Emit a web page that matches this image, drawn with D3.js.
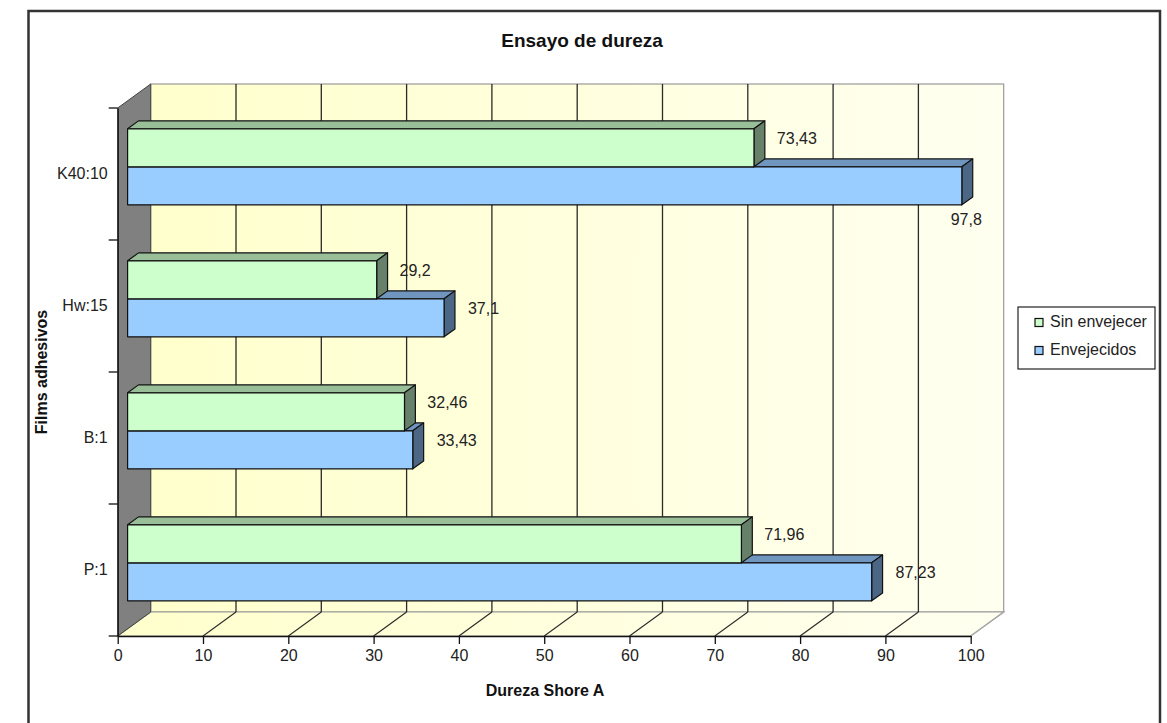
<!DOCTYPE html>
<html>
<head>
<meta charset="utf-8">
<script src="https://cdn.jsdelivr.net/npm/d3@7/dist/d3.min.js"></script>
<style>
  html, body { margin: 0; padding: 0; background: #fff; }
  svg { display: block; font-family: "Liberation Sans", Arial, sans-serif; }
</style>
</head>
<body>
<svg id="chart" width="1167" height="723"></svg>
<script>
// Hardness test data (Shore A)
const categories = ["K40:10", "Hw:15", "B:1", "P:1"];
const seriesNames = ["Sin envejecer", "Envejecidos"];
const sinEnvejecer = [73.43, 29.2, 32.46, 71.96];
const envejecidos = [97.8, 37.1, 33.43, 87.23];
const xTicks = [0, 10, 20, 30, 40, 50, 60, 70, 80, 90, 100];

const svg = d3.select("#chart");
const FONT = "Liberation Sans, Arial, sans-serif";

// front plane of the 3D plot
const x = d3.scaleLinear().domain([0, 100]).range([117.7, 970.7]);
const y = d3.scaleBand().domain(categories).range([108, 636]);
const yTop = 108, yBot = 636;

// depth of the whole box, and of the bars inside it
const depth = { dx: 33, dy: -24 };
const barFront = 0.3, barBack = 0.63;
const shift = f => ({ dx: depth.dx * f, dy: depth.dy * f });

const colors = {
  green: { front: "#ccffcc", top: "#99bf99", side: "#66806a" },
  blue:  { front: "#99ccff", top: "#7096bf", side: "#4c6685" }
};

const defs = svg.append("defs");
const grad = defs.append("linearGradient").attr("id", "wallGrad")
  .attr("x1", "0%").attr("x2", "100%").attr("y1", "0%").attr("y2", "0%");
grad.append("stop").attr("offset", "0%").attr("stop-color", "#ffffcc");
grad.append("stop").attr("offset", "100%").attr("stop-color", "#fffff0");

// outer frame
svg.append("rect").attr("x", 28.5).attr("y", 11).attr("width", 1131.5).attr("height", 730)
  .attr("fill", "#fff").attr("stroke", "#333").attr("stroke-width", 2.5);

// title
svg.append("text").attr("x", 582).attr("y", 47).attr("text-anchor", "middle")
  .attr("font-size", 19).attr("font-weight", "bold").attr("fill", "#111")
  .text("Ensayo de dureza");

const x0 = x(0), x1 = x(100);

// back wall
svg.append("rect")
  .attr("x", x0 + depth.dx).attr("y", yTop + depth.dy)
  .attr("width", x1 - x0).attr("height", yBot - yTop)
  .attr("fill", "url(#wallGrad)").attr("stroke", "#9a9a9a").attr("stroke-width", 1.2);

// floor
svg.append("polygon")
  .attr("points", [[x0, yBot], [x1, yBot], [x1 + depth.dx, yBot + depth.dy], [x0 + depth.dx, yBot + depth.dy]].join(" "))
  .attr("fill", "url(#wallGrad)").attr("stroke", "#9a9a9a").attr("stroke-width", 1.2);

// gridlines on the back wall and floor
const gridVals = xTicks.filter(v => v > 0 && v < 100);
svg.append("g").selectAll("line").data(gridVals).join("line")
  .attr("x1", d => x(d) + depth.dx).attr("x2", d => x(d) + depth.dx)
  .attr("y1", yTop + depth.dy).attr("y2", yBot + depth.dy)
  .attr("stroke", "#2a2a2a").attr("stroke-width", 1.3);
svg.append("g").selectAll("line").data(xTicks.filter(v => v > 0)).join("line")
  .attr("x1", d => x(d)).attr("x2", d => x(d) + depth.dx)
  .attr("y1", yBot).attr("y2", yBot + depth.dy)
  .attr("stroke", d => d === 100 ? "#aaa" : "#2a2a2a").attr("stroke-width", 1.1);

// left side wall
svg.append("polygon")
  .attr("points", [[x0, yTop], [x0 + depth.dx, yTop + depth.dy], [x0 + depth.dx, yBot + depth.dy], [x0, yBot]].join(" "))
  .attr("fill", "#808080").attr("stroke", "#444").attr("stroke-width", 1);

// 3D bars
const groupFrac = 0.576;
const barsG = svg.append("g");
function drawBar(v, yFront0, h, c) {
  const f = shift(barFront), b = shift(barBack);
  const bd = { dx: b.dx - f.dx, dy: b.dy - f.dy };
  const xl = x0 + f.dx, xr = x(v) + f.dx;
  const yt = yFront0 + f.dy, yb = yt + h;
  const g = barsG.append("g").attr("stroke", "#111").attr("stroke-width", 1.2).attr("stroke-linejoin", "round");
  g.append("polygon").attr("points", [[xl, yt], [xl + bd.dx, yt + bd.dy], [xr + bd.dx, yt + bd.dy], [xr, yt]].join(" "))
    .attr("fill", c.top);
  g.append("polygon").attr("points", [[xr, yt], [xr + bd.dx, yt + bd.dy], [xr + bd.dx, yb + bd.dy], [xr, yb]].join(" "))
    .attr("fill", c.side);
  g.append("rect").attr("x", xl).attr("y", yt).attr("width", xr - xl).attr("height", h)
    .attr("fill", c.front);
  return { xr, xBackR: xr + bd.dx, yt, yb };
}

const fmt = v => String(v).replace(".", ",");
const labelG = svg.append("g").attr("font-size", 16).attr("fill", "#222");

categories.forEach((cat, i) => {
  const bw = y.bandwidth();
  const gh = bw * groupFrac;
  const barH = gh / 2;
  const top = y(cat) + (bw - gh) / 2;
  // lower (front-most) series first so the upper bar covers its top face
  const blue = drawBar(envejecidos[i], top + barH, barH, colors.blue);
  const green = drawBar(sinEnvejecer[i], top, barH, colors.green);

  labelG.append("text").attr("x", green.xBackR + 12).attr("y", (green.yt + green.yb) / 2 - 8)
    .attr("dominant-baseline", "middle").text(fmt(sinEnvejecer[i]));
  if (envejecidos[i] > 90) {
    labelG.append("text").attr("x", blue.xr + 20).attr("y", blue.yb + 16)
      .attr("text-anchor", "end").attr("dominant-baseline", "middle").text(fmt(envejecidos[i]));
  } else {
    labelG.append("text").attr("x", blue.xBackR + 13).attr("y", (blue.yt + blue.yb) / 2 - 8)
      .attr("dominant-baseline", "middle").text(fmt(envejecidos[i]));
  }
});

// x axis
const xAxis = svg.append("g").attr("transform", `translate(0,${yBot})`)
  .call(d3.axisBottom(x).tickValues(xTicks).tickSize(8).tickSizeOuter(0).tickPadding(6));
xAxis.select(".domain").attr("stroke", "#111").attr("stroke-width", 1.3);
xAxis.selectAll(".tick line").attr("stroke", "#111").attr("stroke-width", 1.3);
xAxis.selectAll(".tick text").attr("font-size", 16).attr("fill", "#222").attr("font-family", FONT);

// y axis: labels centred on each band, ticks at band boundaries
const yAxis = svg.append("g").attr("transform", `translate(${x0},0)`)
  .call(d3.axisLeft(y).tickSize(0).tickPadding(10));
yAxis.select(".domain").attr("stroke", "#111").attr("stroke-width", 1.3);
yAxis.selectAll(".tick text").attr("font-size", 16).attr("fill", "#222").attr("font-family", FONT);
const bounds = categories.map(c => y(c)).concat([yBot]);
svg.append("g").selectAll("line").data(bounds).join("line")
  .attr("x1", x0 - 9).attr("x2", x0).attr("y1", d => d).attr("y2", d => d)
  .attr("stroke", "#111").attr("stroke-width", 1.3);

// axis titles
svg.append("text").attr("x", 545).attr("y", 696).attr("text-anchor", "middle")
  .attr("font-size", 16).attr("font-weight", "bold").attr("fill", "#111").text("Dureza Shore A");
svg.append("text").attr("transform", "translate(47,372) rotate(-90)").attr("text-anchor", "middle")
  .attr("font-size", 16).attr("font-weight", "bold").attr("fill", "#111").text("Films adhesivos");

// legend
const legend = svg.append("g");
legend.append("rect").attr("x", 1018).attr("y", 307).attr("width", 137).attr("height", 62)
  .attr("fill", "#fff").attr("stroke", "#222").attr("stroke-width", 1.2);
const legendFill = [colors.green.front, colors.blue.front];
seriesNames.forEach((name, i) => {
  const cy = 323 + i * 28;
  legend.append("rect").attr("x", 1035).attr("y", cy - 4.5).attr("width", 8).attr("height", 8)
    .attr("fill", legendFill[i]).attr("stroke", "#111").attr("stroke-width", 1.2);
  legend.append("text").attr("x", 1050).attr("y", cy).attr("dominant-baseline", "middle")
    .attr("font-size", 16).attr("fill", "#222").text(name);
});
</script>
</body>
</html>
